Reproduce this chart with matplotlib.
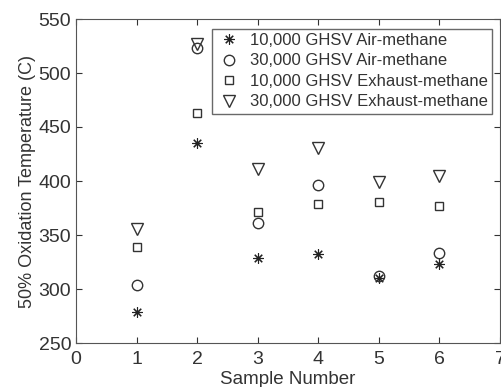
import matplotlib.pyplot as plt

plt.rcParams['font.family'] = ['Liberation Sans', 'DejaVu Sans']

samples = [1, 2, 3, 4, 5, 6]
air_10k = [279, 435, 329, 332, 310, 323]
air_30k = [304, 523, 361, 396, 312, 333]
exh_10k = [339, 463, 371, 379, 381, 377]
exh_30k = [356, 527, 411, 431, 399, 405]

fig = plt.figure(figsize=(5.01, 3.87), dpi=100)
ax = fig.add_axes([76/501, 44/387, 424/501, 324/387])

ink = '#333333'
ax.plot(samples, air_10k, ls='none', marker=(8, 2, 0), ms=7.5, mec='#222222', mew=0.8, label='10,000 GHSV Air-methane')
ax.plot(samples, air_30k, ls='none', marker='o', ms=7.5, mfc='none', mec=ink, mew=1, label='30,000 GHSV Air-methane')
ax.plot(samples, exh_10k, ls='none', marker='s', ms=6, mfc='none', mec=ink, mew=1, label='10,000 GHSV Exhaust-methane')
ax.plot(samples, exh_30k, ls='none', marker='v', ms=8, mfc='none', mec=ink, mew=1, label='30,000 GHSV Exhaust-methane')

ax.set_xlim(0, 7)
ax.set_ylim(250, 550)
ax.set_xticks(range(0, 8))
ax.set_yticks(range(250, 551, 50))
ax.tick_params(direction='in', top=True, right=True, labelsize=14, colors=ink, length=4)
ax.tick_params(axis='x', pad=6)
for s in ax.spines.values():
    s.set_color('#555555')
ax.set_xlabel('Sample Number', fontsize=13.5, color=ink, labelpad=2)
ax.set_ylabel('50% Oxidation Temperature (C)', fontsize=13, color=ink, labelpad=2)

leg = ax.legend(loc='upper right', bbox_to_anchor=(0.981, 0.97), fontsize=12, frameon=True,
                fancybox=False, edgecolor='#444444', handletextpad=0.5, borderpad=0.25,
                labelspacing=0.33, handlelength=1.5, borderaxespad=0)
for t in leg.get_texts():
    t.set_color(ink)
leg.get_frame().set_linewidth(1)

fig.savefig('out.png', dpi=100)
